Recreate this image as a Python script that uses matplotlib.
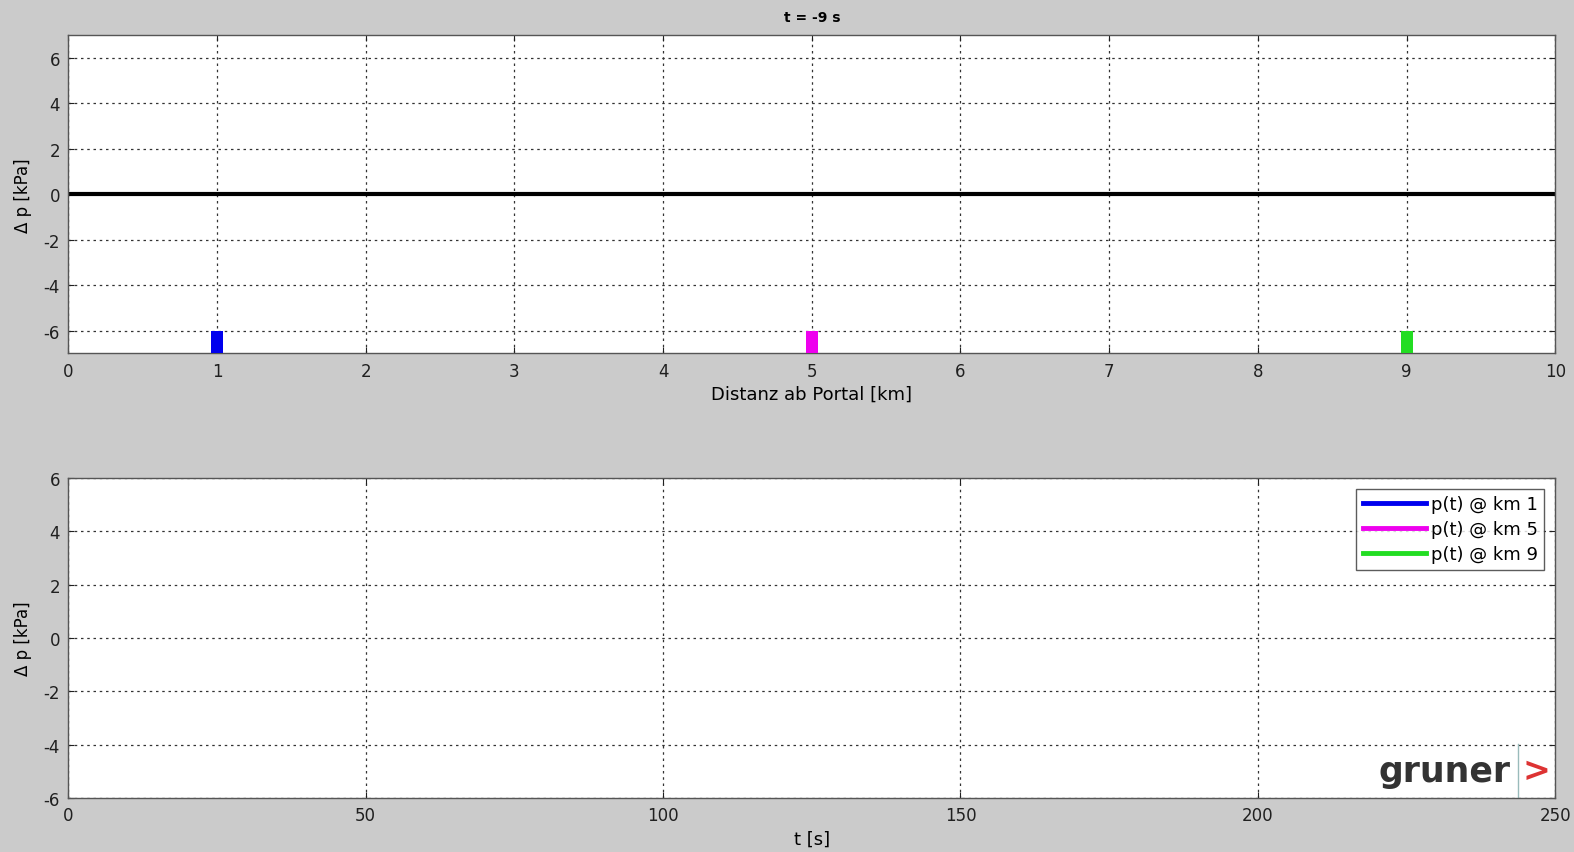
import matplotlib
matplotlib.use("Agg")
import matplotlib.pyplot as plt

plt.rcParams["axes.unicode_minus"] = False

# sensor positions along the tunnel and their colours
sensor_km = [1, 5, 9]
sensor_colors = ["#0000ee", "#ee00ee", "#22dd22"]
sensor_labels = ["p(t) @ km 1", "p(t) @ km 5", "p(t) @ km 9"]
sensor_base = -7
sensor_top = -6

# pressure profile along tunnel at t = -9 s (flat zero)
profile_x = [0, 10]
profile_p = [0, 0]

top_xticks = list(range(0, 11))
top_yticks = [-6, -4, -2, 0, 2, 4, 6]
bot_xticks = [0, 50, 100, 150, 200, 250]
bot_yticks = [-6, -4, -2, 0, 2, 4, 6]

# time histories are still empty at t = -9 s
t_hist = []
p_hist = [[], [], []]

bg = "#cbcbcb"
fig = plt.figure(figsize=(15.74, 8.53), dpi=100, facecolor=bg)
ax1 = fig.add_axes([0.0434, 0.5846, 0.9447, 0.3731])
ax2 = fig.add_axes([0.0434, 0.0633, 0.9447, 0.3754])

tick_kw = dict(direction="in", length=4, pad=6, labelsize=12, colors="#202020")

for ax in (ax1, ax2):
    ax.set_facecolor("white")
    ax.grid(True, color="#333333", linestyle=(0, (2, 3)), linewidth=0.9)
    ax.set_axisbelow(True)
    ax.tick_params(top=True, right=True, **tick_kw)
    for s in ax.spines.values():
        s.set_color("#555555")
        s.set_linewidth(1.0)

# top: profile along tunnel
ax1.plot(profile_x, profile_p, color="black", linewidth=3)
ax1.bar(sensor_km, [sensor_top - sensor_base] * len(sensor_km), bottom=sensor_base,
        width=0.08, color=sensor_colors, zorder=3)
ax1.set_xlim(0, 10)
ax1.set_ylim(-7, 7)
ax1.set_xticks(top_xticks)
ax1.set_yticks(top_yticks)
ax1.set_xlabel("Distanz ab Portal [km]", fontsize=13, labelpad=4)
ax1.set_ylabel("Δ p [kPa]", fontsize=12, labelpad=8)
ax1.set_title("t = -9 s", fontsize=10, fontweight="bold", pad=10)

# bottom: time histories
for ph, c, lab in zip(p_hist, sensor_colors, sensor_labels):
    ax2.plot(t_hist, ph, color=c, linewidth=3.5, label=lab)
ax2.set_xlim(0, 250)
ax2.set_ylim(-6, 6)
ax2.set_xticks(bot_xticks)
ax2.set_yticks(bot_yticks)
ax2.set_xlabel("t [s]", fontsize=13, labelpad=4)
ax2.set_ylabel("Δ p [kPa]", fontsize=12, labelpad=8)
leg = ax2.legend(loc="upper right", fontsize=13, frameon=True, fancybox=False,
                 borderpad=0.35, labelspacing=0.4, handlelength=3.5, handletextpad=0.3,
                 borderaxespad=0.6)
leg.get_frame().set_edgecolor("#333333")
leg.get_frame().set_linewidth(1.0)

# company logo
ax2.text(0.970, 0.085, "gruner", transform=ax2.transAxes, ha="right", va="center",
         fontsize=25, fontweight="bold", color="#333333")
ax2.text(0.978, 0.085, ">", transform=ax2.transAxes, ha="left", va="center",
         fontsize=24, fontweight="bold", color="#dd3333")
ax2.axvline(0.975 * 250, ymin=0.0, ymax=0.17, color="#99bbbb", linewidth=1)

fig.savefig("out.png", dpi=100, facecolor=bg)
